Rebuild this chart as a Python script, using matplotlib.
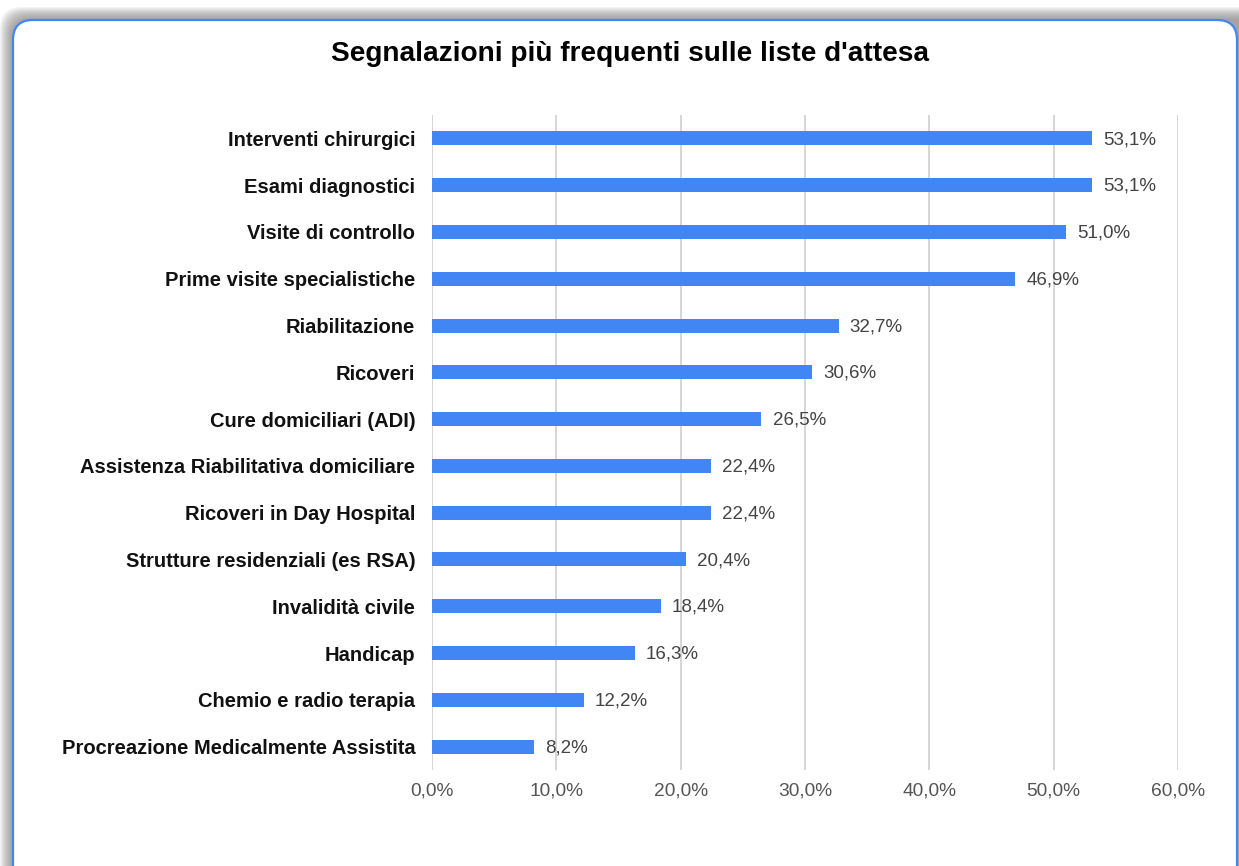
import matplotlib.pyplot as plt
from matplotlib.patches import FancyBboxPatch
from matplotlib.ticker import FuncFormatter

plt.rcParams['font.family'] = ['Liberation Sans', 'DejaVu Sans']

# data
categories = [
    'Interventi chirurgici',
    'Esami diagnostici',
    'Visite di controllo',
    'Prime visite specialistiche',
    'Riabilitazione',
    'Ricoveri',
    'Cure domiciliari (ADI)',
    'Assistenza Riabilitativa domiciliare',
    'Ricoveri in Day Hospital',
    'Strutture residenziali (es RSA)',
    'Invalidità civile',
    'Handicap',
    'Chemio e radio terapia',
    'Procreazione Medicalmente Assistita',
]
values = [53.1, 53.1, 51.0, 46.9, 32.7, 30.6, 26.5, 22.4, 22.4, 20.4, 18.4, 16.3, 12.2, 8.2]
x_ticks = [0, 10, 20, 30, 40, 50, 60]

W, H = 1239, 866
fig = plt.figure(figsize=(W / 100, H / 100), dpi=100)
fig.patch.set_facecolor('white')

# background layer in pixel units: card with shadow
bg = fig.add_axes([0, 0, 1, 1], zorder=0)
bg.set_xlim(0, W)
bg.set_ylim(H, 0)
bg.axis('off')

card_x, card_y = 13, 20
for i in range(13, 0, -1):
    bg.add_patch(FancyBboxPatch((card_x - i, card_y - i), W + 40, H + 40,
                                boxstyle='round,pad=0,rounding_size=22',
                                facecolor='#7a7a7a', edgecolor='none', alpha=0.08))
bg.add_patch(FancyBboxPatch((card_x, card_y), W - card_x - 2, H + 40,
                            boxstyle='round,pad=0,rounding_size=20',
                            facecolor='white', edgecolor='#4285F4', linewidth=1.6))

# main chart
ax = fig.add_axes([432 / W, 1 - 770 / H, (1178 - 432) / W, (770 - 115) / H], zorder=1)
ax.patch.set_alpha(0)

pos = list(range(len(categories)))
ax.barh(pos, values, height=0.3, color='#4285F4', zorder=3)
for p, v in zip(pos, values):
    ax.annotate(f'{v:.1f}'.replace('.', ',') + '%', (v, p), xytext=(8, -0.8),
                textcoords='offset points', va='center', ha='left',
                fontsize=13.5, color='#444444')

ax.set_ylim(len(categories) - 0.5, -0.5)
ax.set_yticks(pos)
ax.set_yticklabels(categories, fontsize=14.5, fontweight='bold', color='#111111')
ax.set_xlim(0, 60)
ax.set_xticks(x_ticks)
ax.xaxis.set_major_formatter(FuncFormatter(lambda v, _: f'{v:.1f}'.replace('.', ',') + '%'))
ax.tick_params(axis='x', length=0, pad=9, labelsize=13.8, labelcolor='#555555')
ax.tick_params(axis='y', length=0, pad=12)
ax.grid(axis='x', color='#d0d0d0', linewidth=1.2, zorder=0)
for s in ax.spines.values():
    s.set_visible(False)

fig.text(630 / W, 1 - 54 / H, "Segnalazioni più frequenti sulle liste d'attesa",
         ha='center', va='center', fontsize=20.2, fontweight='bold', color='#000000')

fig.savefig('out.png', dpi=100)
